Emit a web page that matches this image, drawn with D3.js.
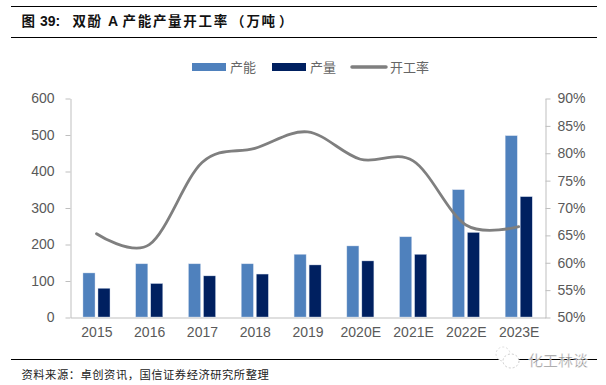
<!DOCTYPE html>
<html><head><meta charset="utf-8">
<script src="https://cdn.jsdelivr.net/npm/d3@7"></script>
<style>html,body{margin:0;padding:0;background:#fff}svg{display:block}</style></head>
<body><svg id="c" width="606" height="385"></svg>
<script>
const categories=["2015","2016","2017","2018","2019","2020E","2021E","2022E","2023E"];
const capacity=[122,147,147,147,173,196,221,350,498];
const output=[80,93,114,119,144,155,173,233,331];
const rate=[65.3,63.3,78.3,80.9,83.9,78.9,78.6,66.9,66.6];
const leftTicks=[0,100,200,300,400,500,600];
const rightTicks=[50,55,60,65,70,75,80,85,90];
const svg=d3.select("#c");
const L=70.5,R=545.5,T=98.5,B=317.5;
const x=d3.scaleBand().domain(categories).range([L,R]);
const yL=d3.scaleLinear().domain([0,600]).range([B,T]);
const yR=d3.scaleLinear().domain([50,90]).range([B,T]);
const sans="Arial,'Liberation Sans',sans-serif",cjk="'Noto Sans CJK SC',sans-serif";
const rule=(x1,x2,y)=>svg.append("line").attr("x1",x1).attr("x2",x2).attr("y1",y).attr("y2",y).attr("stroke","#000").attr("stroke-width",1.1);
rule(11,597,6.5);rule(11,597,37.5);rule(11,597,359.5);
// title
const t=svg.append("text").attr("y",25.5).attr("font-weight",700).attr("fill","#111");
[["图",21.5],["39:",40],["双",72.5],["酚",87.5],["A",108],["产",122.5],["能",137.7],["产",152.9],["量",168.1],["开",183.3],["工",198.5],["率",213.7],["（",231],["万",246.5],["吨",261.5],["）",279]]
 .forEach(d=>t.append("tspan").attr("x",d[1]).attr("font-family",/[0-9A]/.test(d[0])?sans:cjk).attr("font-size",/[0-9A]/.test(d[0])?14:13.5).text(d[0]));
// source
svg.append("text").attr("x",21.5).attr("y",379).attr("font-family",cjk).attr("font-size",11.3).attr("letter-spacing",.5).attr("fill","#222").text("资料来源：卓创资讯，国信证券经济研究所整理");
// legend
const lg=[["产能","#4F81BD",192],["产量","#002060",272]];
lg.forEach(d=>{svg.append("rect").attr("x",d[2]).attr("y",63).attr("width",34).attr("height",8).attr("fill",d[1]);
svg.append("text").attr("x",d[2]+38).attr("y",71.5).attr("font-family",cjk).attr("font-size",13).attr("fill","#666").text(d[0]);});
svg.append("line").attr("x1",352).attr("x2",386).attr("y1",67).attr("y2",67).attr("stroke","#7F7F7F").attr("stroke-width",3.5).attr("stroke-linecap","round");
svg.append("text").attr("x",390).attr("y",71.5).attr("font-family",cjk).attr("font-size",13).attr("fill","#666").text("开工率");
// axes
const style=(g)=>{g.selectAll(".domain,.tick line").attr("stroke","#BFBFBF").attr("stroke-width",1);
g.selectAll("text").attr("font-family",sans).attr("font-size",14).attr("fill","#595959");};
svg.append("g").attr("transform",`translate(${L},0)`).call(d3.axisLeft(yL).tickValues(leftTicks).tickSize(5).tickSizeOuter(0).tickPadding(11)).call(style);
svg.append("g").attr("transform",`translate(${R},0)`).call(d3.axisRight(yR).tickValues(rightTicks).tickFormat(d=>d+"%").tickSize(5).tickSizeOuter(0).tickPadding(7)).call(style);
svg.append("g").attr("transform",`translate(0,${B})`).call(d3.axisBottom(x).tickSize(0).tickSizeOuter(0).tickPadding(10)).call(style);
// bars
const bw=12,gap=3,cx=i=>x(categories[i])+x.bandwidth()/2-.4;
const bars=(vals,col,off)=>svg.append("g").selectAll("rect").data(vals).join("rect")
 .attr("x",(d,i)=>cx(i)+off).attr("width",bw)
 .attr("y",d=>yL(d)).attr("height",d=>B-.5-yL(d)).attr("fill",col)
 .attr("stroke","#C9D6EA").attr("stroke-width",.4);
bars(capacity,"#4F81BD",-bw-gap/2);
bars(output,"#002060",gap/2);
// line
const line=d3.line().x((d,i)=>cx(i)).y(d=>yR(d)).curve(d3.curveCatmullRom.alpha(0));
svg.append("path").attr("d",line(rate)).attr("fill","none").attr("stroke","#7F7F7F").attr("stroke-width",2.8).attr("stroke-linecap","round");
// watermark
svg.append("circle").attr("cx",503).attr("cy",354).attr("r",7).attr("fill","#fff").attr("stroke","#ddd").attr("stroke-dasharray","2 2");
svg.append("ellipse").attr("cx",511).attr("cy",361).attr("rx",8).attr("ry",7).attr("fill","#fff").attr("stroke","#ccc").attr("stroke-dasharray","2 2");
svg.append("text").attr("x",528).attr("y",365.5).attr("font-family",cjk).attr("font-size",15).attr("fill","#8a8a8a").attr("stroke","#fff").attr("stroke-width",.4).text("化工林谈");
</script></body></html>
